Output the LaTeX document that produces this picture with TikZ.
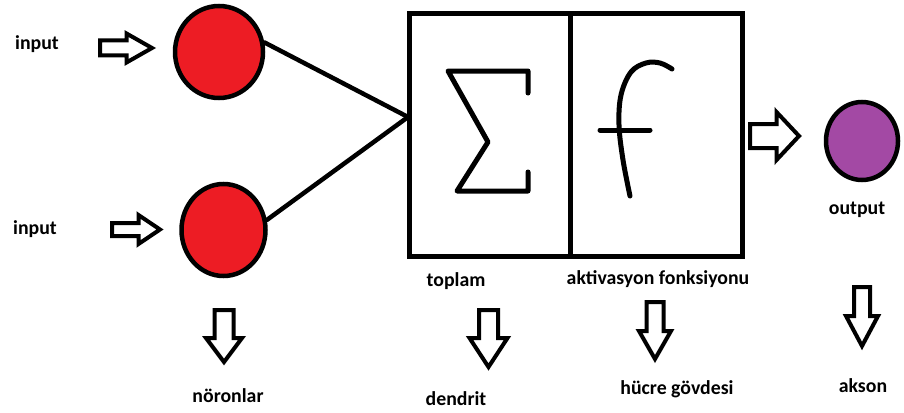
\documentclass[tikz,border=0pt]{standalone}
\usepackage{fontspec}
\setmainfont{Carlito}
\usetikzlibrary{shapes.geometric}
\definecolor{paintred}{HTML}{ED1C24}
\definecolor{paintpurple}{HTML}{A349A4}
\newcommand{\myrarrow}[6]{% x0, y, shaft end, tip, shaft half, head half
  \draw[blockarrow] (#1,#2-#5) -- (#3,#2-#5) -- (#3,#2-#6) -- (#4,#2) -- (#3,#2+#6) -- (#3,#2+#5) -- (#1,#2+#5) -- cycle;}
\newcommand{\mydarrow}[6]{% x, y0, shaft end, tip, shaft half, head half
  \draw[blockarrow] (#1-#5,#2) -- (#1-#5,#3) -- (#1-#6,#3) -- (#1,#4) -- (#1+#6,#3) -- (#1+#5,#3) -- (#1+#5,#2) -- cycle;}
\begin{document}
\begin{tikzpicture}[x=1pt,y=-1pt,
  lbl/.style={font=\fontsize{19.8}{21}\selectfont\bfseries, anchor=base, inner sep=0pt},
  neuron/.style={ellipse, draw=black, line width=4.5pt, inner sep=0pt},
  blockarrow/.style={draw=black, fill=white, line width=4pt, line join=miter},
  cell/.style={rectangle, draw=black, line width=5pt, inner sep=0pt, minimum height=242pt},
  wire/.style={draw=black, line width=4.5pt, line cap=round},
  glyph/.style={draw=black, line width=5pt, line cap=round, line join=round}]
\useasboundingbox (0,0) rectangle (904,412);
% neurons
\node[neuron, fill=paintred, minimum width=88pt, minimum height=92pt] (c1) at (219,52) {};
\node[neuron, fill=paintred, minimum width=84pt, minimum height=92pt] (c2) at (223.5,230) {};
\node[neuron, fill=paintpurple, minimum width=72pt, minimum height=78pt] (c3) at (862,141) {};
% cell body boxes
\node[cell, minimum width=161pt] (sum) at (489.5,135) {};
\node[cell, minimum width=172pt] (act) at (656,135) {};
\coordinate (j) at (408,117);
% connections
\draw[wire] (c1.12) -- (j);
\draw[wire] (c2.13) -- (j);
% sigma
\draw[glyph] (528,93) -- (528,71) -- (448,71) -- (488,142) -- (457,191) -- (528,191) -- (528,172);
% f
\draw[glyph] plot[smooth, tension=0.6] coordinates {(672,69) (660,63) (646,63) (631,72) (621,95) (619,125) (623,160) (630,196)};
\draw[glyph] (600,130) -- (650,130);
% input arrows
\myrarrow{100}{48}{126.5}{152}{7.5}{14.5}
\myrarrow{112}{229.5}{138.5}{160}{6.5}{14.5}
\myrarrow{750}{136}{776.5}{799}{12}{24}
% down arrows
\mydarrow{224}{310}{338}{362}{9.5}{18}
\mydarrow{488.5}{310}{338}{367}{9.5}{19}
\mydarrow{655}{302}{331}{359}{8.5}{16}
\mydarrow{862}{287}{316}{346}{8}{16}
% labels
\node[lbl] (in1) at (37,49) {input};
\node[lbl] (in2) at (35,234) {input};
\node[lbl] (out) at (857,214) {output};
\node[lbl] (top) at (456,286) {toplam};
\node[lbl] (akt) at (658,284) {aktivasyon fonksiyonu};
\node[lbl] (nor) at (228,402) {nöronlar};
\node[lbl] (den) at (456,405) {dendrit};
\node[lbl] (huc) at (677,394) {hücre gövdesi};
\node[lbl] (aks) at (863,392) {akson};
\end{tikzpicture}
\end{document}
